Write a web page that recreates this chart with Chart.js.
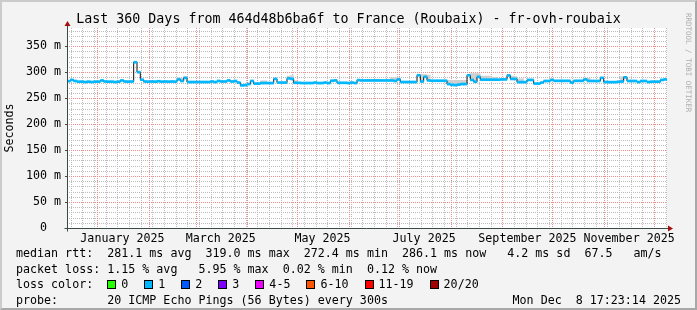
<!DOCTYPE html>
<html>
<head>
<meta charset="utf-8">
<title>Last 360 Days from 464d48b6ba6f to France (Roubaix) - fr-ovh-roubaix</title>
<script src="https://cdn.jsdelivr.net/npm/chart.js@4.4.1/dist/chart.umd.min.js"></script>
<style>
  body { margin: 0; background: #f3f3f3; }
  #wrap { position: relative; width: 697px; height: 310px; overflow: hidden; background: #f3f3f3;
          font-family: "DejaVu Sans Mono", monospace; color: #000; }
  #wrap canvas { position: absolute; left: 0; top: 0; }
  .frame { position: absolute; left: 0; top: 0; width: 697px; height: 310px; box-sizing: border-box;
           border: 2px solid #cbcbcb; border-right-color: #a8a8a8; border-bottom-color: #a8a8a8; pointer-events: none; }
  .title { position: absolute; left: 0; top: 10.5px; width: 697px; text-align: center;
           font-size: 13.3px; line-height: 16px; white-space: pre; }
  .mark { position: absolute; left: 693px; top: 13px; font-size: 7.5px; line-height: 9px; color: #b0b0b0;
          white-space: pre; transform-origin: 0 0; transform: rotate(90deg); }
  .leg { position: absolute; left: 16px; font-size: 11.66px; line-height: 15px; white-space: pre; }
  .right { left: auto; right: 16px; }
  .item { display: inline-block; margin-right: 16px; }
  .box { display: inline-block; width: 9px; height: 9px; box-sizing: border-box; border: 1px solid #000;
         margin-right: 5px; vertical-align: -1px; }
</style>
</head>
<body>
<div id="wrap">
  <canvas id="rrd" width="697" height="310"></canvas>
  <div class="title">Last 360 Days from 464d48b6ba6f to France (Roubaix) - fr-ovh-roubaix</div>
  <div class="mark">RRDTOOL / TOBI OETIKER</div>
  <div class="leg" style="top:246px">median rtt:  281.1 ms avg  319.0 ms max  272.4 ms min  286.1 ms now   4.2 ms sd  67.5   am/s</div>
  <div class="leg" style="top:261.5px">packet loss: 1.15 % avg   5.95 % max  0.02 % min  0.12 % now</div>
  <div class="leg" id="loss" style="top:277px">loss color:  </div>
  <div class="leg" style="top:292.5px">probe:       20 ICMP Echo Pings (56 Bytes) every 300s</div>
  <div class="leg right" style="top:292.5px">Mon Dec  8 17:23:14 2025</div>
  <div class="frame"></div>
</div>
<script>
// median rtt in ms, one value per 2-day bin (360 days -> 180 bins)
const median = [
  282.7, 285, 283, 281.7, 281.7, 281, 281.7, 281, 281.7, 281.7,
  284, 282, 281.7, 281.7, 281, 281.7, 284, 282, 281.7, 282,
  319, 300, 285.5, 282, 281.7, 282, 281.7, 282.5, 281.7, 282,
  281.7, 282, 281.7, 286, 283, 289, 281, 281, 281, 281,
  281, 281, 281, 282, 281, 283, 282, 282, 284, 282,
  283, 280, 274.5, 275, 277, 283, 278, 278, 279, 279,
  279, 279, 287, 280, 280, 280, 288, 287, 279.5, 279.5,
  279, 279, 279, 279, 280, 279, 279, 280, 279, 283.3,
  284, 279.5, 279.5, 279.5, 279, 280, 279, 284.6, 284, 284,
  284, 284, 284, 284, 284, 284, 284, 284, 283, 286,
  281, 281, 281, 281, 281, 294, 282, 291, 284, 283.5,
  283.5, 283.5, 283.5, 283.5, 277, 275.6, 275, 276, 277, 277,
  294, 285, 281.6, 291, 285.5, 285.5, 285.5, 285.5, 285.5, 285.5,
  286, 286, 293.6, 287, 287, 280.8, 280.8, 280.8, 285, 285,
  278, 278, 280, 283, 283, 285, 283.3, 283.3, 283.3, 283.3,
  283.3, 280, 283.3, 283.3, 283.3, 286, 283, 283, 283, 283,
  289, 281, 280.8, 280.8, 280.8, 281.5, 282, 290, 283, 283,
  283, 281, 283, 283, 281, 281.7, 281.7, 281.7, 285, 286
];

// grey smoke (ping spread) where it shows above the median: bin index and top in ms
const smokeBins = [33, 34, 35, 58, 59, 66, 67, 68, 79, 80, 90, 91, 92, 93, 97, 98, 99,
                   105, 106, 107, 108, 113, 114, 115, 116, 117, 118, 119,
                   121, 122, 123, 124, 125, 126, 127, 128, 132, 133, 134, 135, 136,
                   145, 155, 156, 166, 167];
const smokeTop  = [290, 289, 292, 284, 284, 293, 294, 284, 286, 286, 287, 287, 287, 287, 290, 290, 290,
                   296, 296, 296, 295, 285, 285, 285, 285, 285, 285, 285,
                   298, 298, 298, 293, 293, 293, 291, 291, 296, 293, 292, 288, 288,
                   288, 289, 289, 292, 292];

// y axis
const yMax = 385;
const yLabelAt = [0, 50, 100, 150, 200, 250, 300, 350];
const yLabels  = ['0  ', '50 m', '100 m', '150 m', '200 m', '250 m', '300 m', '350 m'];

// x axis: 360 days ending Mon Dec 8 17:23:14 2025
const spanDays = 360;
const startTime = Date.UTC(2024, 11, 13, 17, 23, 14);
const labelMonths = [0, 2, 4, 6, 8, 10];
const tickLabels = ['January 2025', 'March 2025', 'May 2025', 'July 2025', 'September 2025', 'November 2025'];

// loss legend
const lossLabels = ['0', '1', '2', '3', '4-5', '6-10', '11-19', '20/20'];
const lossColors = ['#26ff00', '#00b8ff', '#0059ff', '#7e00ff', '#ee00ff', '#ff5500', '#ff0000', '#a10000'];

const DAY = 86400000;
const dayOf = t => (t - startTime) / DAY;

// week lines (minor), month lines (major), month labels
const weekLines = [];
for (let t = Date.UTC(2024, 11, 16); dayOf(t) < spanDays; t += 7 * DAY) weekLines.push(dayOf(t));
const monthLines = [];
for (let m = 0; m < 12; m++) monthLines.push(dayOf(Date.UTC(2025, m, 1)));
const labelTicks = labelMonths.map((m, k) => ({ value: dayOf(Date.UTC(2025, m, 1)) + 15, text: tickLabels[k] }));

const yGrid = [];
for (let v = 0; v < yMax; v += 10) yGrid.push(v);

const MINOR = '#bcbcbc';
const MAJOR = '#f08c8c';
const AXIS = '#3a4a45';
const ARROW = '#a01010';
const MONO = { family: '"DejaVu Sans Mono", monospace', size: 11.66 };

// loss colour legend row
const lossRow = document.getElementById('loss');
lossLabels.forEach((txt, i) => {
  const item = document.createElement('span');
  item.className = 'item';
  const box = document.createElement('span');
  box.className = 'box';
  box.style.background = lossColors[i];
  item.appendChild(box);
  item.appendChild(document.createTextNode(txt));
  lossRow.appendChild(item);
});

const smoke = median.map(() => null);
smokeBins.forEach((b, k) => { smoke[b] = [median[b], smokeTop[k]]; });

// white canvas, dotted rrdtool grid, axes with arrows
const rrdFrame = {
  id: 'rrdFrame',
  beforeDraw(chart) {
    const { ctx, chartArea: a } = chart;
    ctx.save();
    ctx.fillStyle = '#ffffff';
    ctx.fillRect(a.left, a.top, a.right - a.left, a.bottom - a.top);
    ctx.restore();
  },
  beforeDatasetsDraw(chart) {
    const { ctx, chartArea: a, scales } = chart;
    const xs = scales.xDays, ys = scales.y;
    const vline = v => {
      const x = Math.round(xs.getPixelForValue(v)) + 0.5;
      ctx.moveTo(x, a.top); ctx.lineTo(x, a.bottom);
    };
    const hline = v => {
      const y = Math.round(ys.getPixelForValue(v)) + 0.5;
      ctx.moveTo(a.left, y); ctx.lineTo(a.right, y);
    };
    ctx.save();
    ctx.lineWidth = 1;
    ctx.setLineDash([1, 1]);
    ctx.strokeStyle = MINOR;
    ctx.beginPath();
    weekLines.forEach(vline);
    yGrid.filter(v => v % 50 !== 0).forEach(hline);
    ctx.stroke();
    ctx.strokeStyle = MAJOR;
    ctx.beginPath();
    monthLines.forEach(vline);
    yGrid.filter(v => v > 0 && v % 50 === 0).forEach(hline);
    ctx.stroke();
    ctx.restore();
  },
  afterDraw(chart) {
    const { ctx, chartArea: a } = chart;
    const x0 = a.left + 0.5, y0 = a.bottom + 0.5;
    ctx.save();
    ctx.strokeStyle = AXIS;
    ctx.lineWidth = 1;
    ctx.beginPath();
    ctx.moveTo(x0, y0 + 3); ctx.lineTo(x0, a.top - 3);
    ctx.moveTo(x0 - 3, y0); ctx.lineTo(a.right + 2, y0);
    ctx.stroke();
    ctx.fillStyle = ARROW;
    ctx.beginPath();
    ctx.moveTo(x0, a.top - 7); ctx.lineTo(x0 - 3, a.top - 2); ctx.lineTo(x0 + 3, a.top - 2);
    ctx.closePath(); ctx.fill();
    ctx.beginPath();
    ctx.moveTo(a.right + 6, y0); ctx.lineTo(a.right + 1, y0 - 3); ctx.lineTo(a.right + 1, y0 + 3);
    ctx.closePath(); ctx.fill();
    ctx.restore();
  }
};

new Chart(document.getElementById('rrd'), {
  type: 'bar',
  data: {
    labels: median.map((_, i) => i),
    datasets: [
      {
        label: 'median rtt (loss colour)',
        data: median.map(v => [v - 2.6, v + 2.6]),
        backgroundColor: lossColors[1],
        borderWidth: 0,
        grouped: false,
        barPercentage: 1.1,
        categoryPercentage: 1,
        xAxisID: 'x',
        order: 1
      },
      {
        type: 'line',
        label: 'median rtt',
        data: median,
        stepped: 'middle',
        borderColor: '#111111',
        borderWidth: 1,
        pointRadius: 0,
        fill: false,
        xAxisID: 'x',
        order: 2
      },
      {
        label: 'smoke',
        data: smoke,
        backgroundColor: '#cfcfcf',
        borderWidth: 0,
        grouped: false,
        barPercentage: 1.1,
        categoryPercentage: 1,
        xAxisID: 'x',
        order: 3
      }
    ]
  },
  options: {
    responsive: false,
    animation: false,
    events: [],
    layout: { autoPadding: false, padding: { top: 28, right: 30, bottom: 0, left: 0 } },
    plugins: { legend: { display: false }, tooltip: { enabled: false }, title: { display: false } },
    scales: {
      x: { type: 'category', display: false, offset: true },
      xDays: {
        type: 'linear',
        position: 'bottom',
        axis: 'x',
        offset: false,
        min: 0,
        max: spanDays,
        afterBuildTicks: s => { s.ticks = labelTicks.map(t => Object.assign({}, t)); },
        afterFit: s => { s.height = 82; },
        ticks: {
          autoSkip: false, maxRotation: 0, minRotation: 0, padding: 4, color: '#000', font: MONO,
          callback: (v, i, ticks) => (ticks[i] && ticks[i].text) || ''
        },
        grid: { offset: false, drawOnChartArea: false, drawTicks: false },
        border: { display: false }
      },
      y: {
        min: 0,
        max: yMax,
        afterBuildTicks: s => { s.ticks = yLabelAt.map(v => ({ value: v })); },
        afterFit: s => { s.width = 67; },
        title: { display: true, text: 'Seconds', color: '#000', font: MONO, padding: { top: 3, bottom: 0 } },
        ticks: {
          autoSkip: false, padding: 4, color: '#000', font: MONO,
          callback: v => { const k = yLabelAt.indexOf(v); return k < 0 ? '' : yLabels[k]; }
        },
        grid: { drawOnChartArea: false, tickColor: AXIS, tickLength: 2 },
        border: { display: false }
      }
    }
  },
  plugins: [rrdFrame]
});
</script>
</body>
</html>
